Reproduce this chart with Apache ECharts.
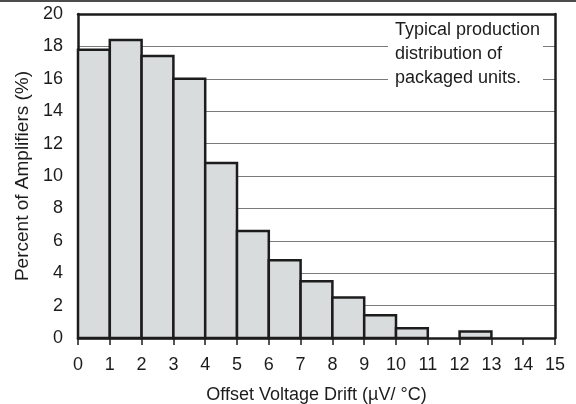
<!DOCTYPE html>
<html>
<head>
<meta charset="utf-8">
<script src="https://cdn.jsdelivr.net/npm/echarts@6/dist/echarts.min.js"></script>
<style>
  html, body { margin: 0; padding: 0; background: #fff; }
  #chart { width: 576px; height: 404px; }
</style>
</head>
<body>
<div id="chart"></div>
<script>
// Histogram bins: each bin spans [binStart, binStart + 1) µV/°C
const binStarts = [0, 1, 2, 3, 4, 5, 6, 7, 8, 9, 10, 11, 12, 13, 14];
const percentValues = [17.8, 18.4, 17.4, 16.0, 10.8, 6.6, 4.8, 3.5, 2.5, 1.4, 0.6, 0, 0.4, 0, 0];
const xTickValues = [0, 1, 2, 3, 4, 5, 6, 7, 8, 9, 10, 11, 12, 13, 14, 15];
const yTickValues = [0, 2, 4, 6, 8, 10, 12, 14, 16, 18, 20];
const noteLines = ['Typical production', 'distribution of', 'packaged units.'];

const FONT = '"Liberation Sans", Arial, Helvetica, sans-serif';
const INK = '#1c1c1c';
const chart = echarts.init(document.getElementById('chart'), null, { renderer: 'canvas' });

const binData = binStarts.map((s, i) => [s, s + 1, percentValues[i]]);

chart.setOption({
  animation: false,
  backgroundColor: '#fff',
  grid: { left: 78, right: 21, top: 14, bottom: 66, containLabel: false, outerBoundsMode: 'none' },
  xAxis: [{
    type: 'value',
    min: xTickValues[0],
    max: xTickValues[xTickValues.length - 1],
    interval: 1,
    name: 'Offset Voltage Drift (µV/ °C)',
    nameLocation: 'middle',
    nameGap: 48,
    nameTextStyle: { fontFamily: FONT, fontSize: 18, color: INK },
    axisLine: { show: true, onZero: false, lineStyle: { color: INK, width: 2.5 } },
    axisTick: { show: true, length: 7, lineStyle: { color: INK, width: 1.5 } },
    axisLabel: { fontFamily: FONT, fontSize: 18, color: INK, margin: 18 },
    splitLine: { show: false }
  }, {
    type: 'value',
    position: 'top',
    min: 0, max: 15,
    axisLine: { show: true, onZero: false, lineStyle: { color: INK, width: 2.5 } },
    axisTick: { show: false },
    axisLabel: { show: false },
    splitLine: { show: false }
  }],
  yAxis: [{
    type: 'value',
    min: yTickValues[0],
    max: yTickValues[yTickValues.length - 1],
    interval: 2,
    name: 'Percent of Amplifiers (%)',
    nameLocation: 'middle',
    nameGap: 43,
    nameTextStyle: { fontFamily: FONT, fontSize: 19, color: INK },
    axisLine: { show: true, onZero: false, lineStyle: { color: INK, width: 2.5 } },
    axisTick: { show: false },
    axisLabel: { fontFamily: FONT, fontSize: 18, color: INK, margin: 15 },
    splitLine: { show: true, lineStyle: { color: '#7a7a7a', width: 1 } }
  }, {
    type: 'value',
    position: 'right',
    min: 0, max: 20,
    axisLine: { show: true, onZero: false, lineStyle: { color: INK, width: 2.5 } },
    axisTick: { show: false },
    axisLabel: { show: false },
    splitLine: { show: false }
  }],
  series: [{
    type: 'custom',
    xAxisIndex: 0,
    yAxisIndex: 0,
    data: binData,
    encode: { x: [0, 1], y: 2 },
    z: 3,
    renderItem: function (params, api) {
      const v = api.value(2);
      if (v <= 0) return null;
      const p0 = api.coord([api.value(0), 0]);
      const p1 = api.coord([api.value(1), v]);
      return {
        type: 'rect',
        shape: { x: p0[0], y: p1[1], width: p1[0] - p0[0], height: p0[1] - p1[1] },
        style: { fill: '#d9dcdc', stroke: INK, lineWidth: 2.5 }
      };
    }
  }],
  graphic: [
    // rule across the top of the page
    { type: 'line', shape: { x1: 0, y1: 1, x2: 576, y2: 1 }, style: { stroke: '#111', lineWidth: 1.5 }, z: 10 },
    // annotation box
    { type: 'rect', shape: { x: 388, y: 20, width: 155, height: 70 }, style: { fill: '#fff' }, z: 5 },
    {
      type: 'text', left: 395, top: 18, z: 6,
      style: {
        text: noteLines.join('\n'),
        font: '18px ' + FONT,
        fill: INK,
        lineHeight: 24
      }
    }
  ]
});
</script>
</body>
</html>
